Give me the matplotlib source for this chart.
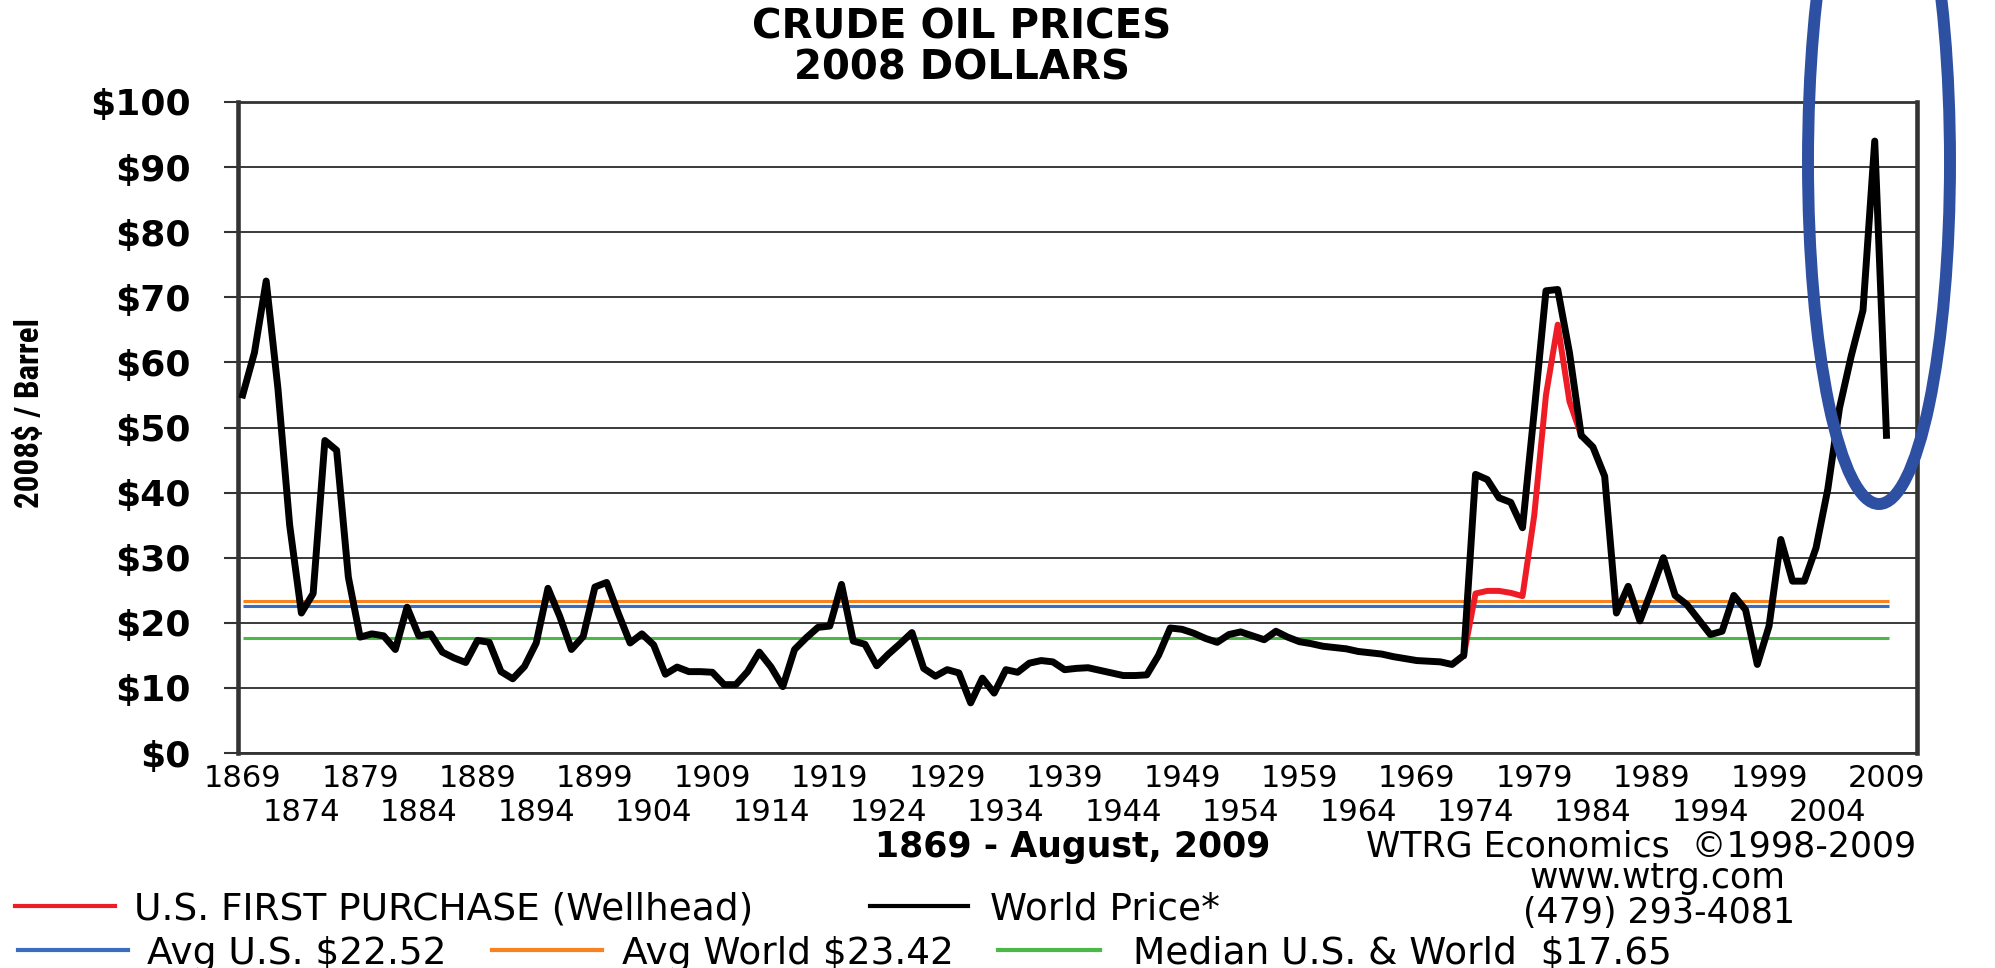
import os
import matplotlib
matplotlib.use("Agg")
import matplotlib.pyplot as plt
from matplotlib import font_manager
from matplotlib.font_manager import FontProperties
from matplotlib.patches import Ellipse
from matplotlib.lines import Line2D

# ---------------- data ----------------
years = list(range(1869, 2010))
world_price = [
    55.0, 61.5, 72.5, 56.0, 35.0, 21.5, 24.5, 48.0, 46.5, 27.0,   # 1869-1878
    17.8, 18.3, 18.0, 15.9, 22.4, 18.0, 18.3, 15.5, 14.6, 13.9,   # 1879-1888
    17.3, 17.0, 12.5, 11.4, 13.3, 16.9, 25.3, 21.0, 15.9, 17.9,   # 1889-1898
    25.5, 26.2, 21.4, 16.9, 18.3, 16.6, 12.1, 13.2, 12.5, 12.5,   # 1899-1908
    12.4, 10.5, 10.5, 12.5, 15.5, 13.2, 10.2, 15.9, 17.7, 19.3,   # 1909-1918
    19.5, 25.9, 17.2, 16.7, 13.4, 15.2, 16.8, 18.5, 13.0, 11.8,   # 1919-1928
    12.8, 12.3, 7.7, 11.5, 9.2, 12.8, 12.4, 13.8, 14.2, 14.0,     # 1929-1938
    12.8, 13.0, 13.1, 12.7, 12.3, 11.9, 11.9, 12.0, 15.0, 19.2,   # 1939-1948
    19.0, 18.4, 17.6, 17.0, 18.2, 18.6, 18.0, 17.4, 18.7, 17.8,   # 1949-1958
    17.1, 16.8, 16.4, 16.2, 16.0, 15.6, 15.4, 15.2, 14.8, 14.5,   # 1959-1968
    14.2, 14.1, 14.0, 13.6, 15.0, 42.8, 42.0, 39.2, 38.5, 34.6,   # 1969-1978
    52.5, 71.0, 71.2, 61.5, 48.8, 47.0, 42.5, 21.5, 25.6, 20.3,   # 1979-1988
    25.0, 30.0, 24.2, 22.8, 20.5, 18.2, 18.7, 24.2, 22.0, 13.6,   # 1989-1998
    19.5, 32.8, 26.4, 26.4, 31.5, 40.5, 53.0, 61.0, 68.0, 94.0,   # 1999-2008
    48.8,                                                         # 2009
]
assert len(world_price) == len(years)

us_years = list(range(1973, 1984))
us_first_purchase = [15.0, 24.5, 24.9, 24.9, 24.6, 24.1, 36.5, 55.0, 65.8, 54.0, 48.8]

avg_us = 22.52
avg_world = 23.42
median_all = 17.65

y_ticks = list(range(0, 101, 10))
y_tick_labels = ["\\$%d" % v for v in y_ticks]
x_row1 = list(range(1869, 2010, 10))
x_row2 = list(range(1874, 2005, 10))

title_lines = ["CRUDE OIL PRICES", "2008 DOLLARS"]
y_label = "2008\\$ / Barrel"

# ---------------- styling ----------------
W, H = 1995, 968
C_RED = "#ee1c25"
C_BLACK = "#000000"
C_BLUE = "#3a6cc0"
C_ORANGE = "#f7821e"
C_GREEN = "#4cb848"
C_ELL = "#2e50a2"
C_AX = "#333333"

plt.rcParams["font.family"] = ["DejaVu Sans"]

fig = plt.figure(figsize=(W / 100, H / 100), dpi=100)
fig.patch.set_facecolor("white")


def fx(px):
    return px / W


def fy(py):
    return 1 - py / H


ax = fig.add_axes([fx(238), fy(753), (1917 - 238) / W, (753 - 102) / H])
ax.set_xlim(1868.6, 2011.6)
ax.set_ylim(0, 100)

# grid
ax.set_yticks(y_ticks)
ax.set_yticklabels(y_tick_labels, fontsize=26, fontweight="bold")
ax.yaxis.grid(True, color="#3a3a3a", linewidth=1.4, zorder=0.5)
ax.xaxis.grid(False)
ax.set_axisbelow(True)
ax.tick_params(axis="y", length=10, width=1.5, color=C_AX, pad=24, direction="out")

ax.set_xticks(x_row1)
ax.set_xticklabels([str(y) for y in x_row1])
ax.set_xticks(x_row2, minor=True)
ax.set_xticklabels([str(y) for y in x_row2], minor=True)
ax.tick_params(axis="x", which="major", length=0, pad=8, labelsize=22)
ax.tick_params(axis="x", which="minor", length=0, pad=32.5, labelsize=22)

for side in ("left", "right"):
    ax.spines[side].set_linewidth(3.3)
    ax.spines[side].set_color(C_AX)
for side in ("top", "bottom"):
    ax.spines[side].set_linewidth(2.0)
    ax.spines[side].set_color(C_AX)

# reference lines
x_end = years[-1] + 0.25
ax.hlines(avg_world, years[0], x_end, color=C_ORANGE, linewidth=2.2, zorder=2)
ax.hlines(avg_us, years[0], x_end, color=C_BLUE, linewidth=2.2, zorder=2)
ax.hlines(median_all, years[0], x_end, color=C_GREEN, linewidth=2.2, zorder=2)

# series
ax.plot(us_years, us_first_purchase, color=C_RED, linewidth=4.3,
        solid_joinstyle="round", zorder=3)
ax.plot(years, world_price, color=C_BLACK, linewidth=5.0,
        solid_joinstyle="round", zorder=4)


# ---------------- texts ----------------
def cap_text(x, y_center, s, size, weight="normal", ha="center", **kw):
    """Place text so that its capital letters are centred on y_center (px)."""
    base = y_center + 0.3645 * size * 100 / 72
    return fig.text(fx(x), fy(base), s, fontsize=size, fontweight=weight,
                    ha=ha, va="baseline", **kw)


cap_text(962, 24, title_lines[0], 29, "bold")
cap_text(962, 65, title_lines[1], 29, "bold")

# y label: prefer a narrower bold face, as in the reference
ylab_path = None
for cand in ("Liberation Sans Narrow", "Roboto Condensed", "Liberation Sans",
             "Roboto", "Arimo"):
    try:
        ylab_path = font_manager.findfont(
            FontProperties(family=cand, weight="bold"), fallback_to_default=False)
        break
    except Exception:
        ylab_path = None
if ylab_path:
    yfp = FontProperties(fname=ylab_path, size=22)
else:
    yfp = FontProperties(family="DejaVu Sans", weight="bold", size=22)
ylab = fig.text(fx(30), fy(413), y_label, rotation=90, ha="center", va="center",
                fontproperties=yfp)
fig.canvas.draw()
bb = ylab.get_window_extent(fig.canvas.get_renderer())
new_size = min(22 * 190 / bb.height, 28)
ylab.set_fontsize(new_size)

# footer texts
cap_text(1073, 844, "1869 - August, 2009", 25, "bold")
cap_text(1641, 844, "WTRG Economics  \u00a91998-2009", 25)
fig.text(fx(1658), fy(888), "www.wtrg.com", fontsize=25, ha="center", va="baseline")
cap_text(1659, 910, "(479) 293-4081", 25)

# legend (manual, two rows)
legend_items = [
    (15, 115, 906, C_RED, "U.S. FIRST PURCHASE (Wellhead)", 134),
    (870, 968, 906, C_BLACK, "World Price*", 990),
    (18, 128, 950, C_BLUE, "Avg U.S. \\$22.52", 147),
    (492, 602, 950, C_ORANGE, "Avg World \\$23.42", 622),
    (998, 1100, 950, C_GREEN, "Median U.S. & World  \\$17.65", 1133),
]
for x0, x1, yy, col, label, tx in legend_items:
    fig.add_artist(Line2D([fx(x0), fx(x1)], [fy(yy), fy(yy)], color=col,
                          linewidth=3.0, transform=fig.transFigure))
    cap_text(tx, yy, label, 27, ha="left")

# highlight ellipse
ell = Ellipse((fx(1879), fy(162)), 142 / W, 684 / H, transform=fig.transFigure,
              fill=False, edgecolor=C_ELL, linewidth=8.6, zorder=10, clip_on=False)
fig.add_artist(ell)

fig.savefig("out.png", dpi=100, facecolor="white")
